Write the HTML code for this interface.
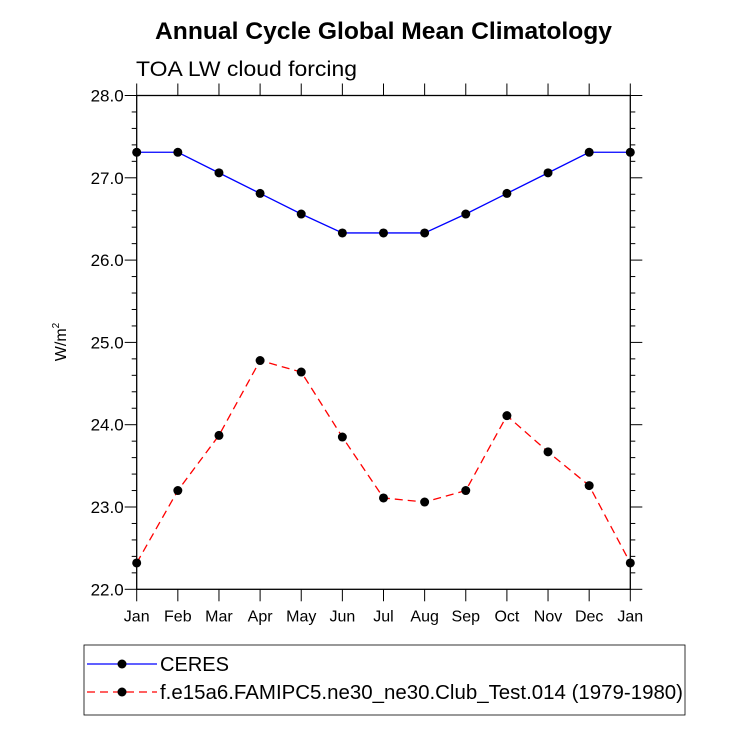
<!DOCTYPE html>
<html><head><meta charset="utf-8"><style>
html,body{margin:0;padding:0;background:#fff;width:732px;height:732px;overflow:hidden}
svg text{font-family:"Liberation Sans",Arial,sans-serif}
</style></head><body>
<svg id="chart" width="732" height="732" xmlns="http://www.w3.org/2000/svg">
<text x="155" y="39" font-size="24" font-weight="bold" textLength="457" lengthAdjust="spacingAndGlyphs">Annual Cycle Global Mean Climatology</text>
<text x="136" y="76" font-size="21" textLength="221" lengthAdjust="spacingAndGlyphs">TOA LW cloud forcing</text>
<text transform="translate(66,342) rotate(-90)" text-anchor="middle" font-size="16">W/m<tspan font-size="10" dy="-7">2</tspan></text>
<g id="axes"></g>
<g id="series"></g>
<g id="legend"></g>
</svg>
<script>
const months = ["Jan","Feb","Mar","Apr","May","Jun","Jul","Aug","Sep","Oct","Nov","Dec","Jan"];
const ceres = [27.31,27.31,27.06,26.81,26.56,26.33,26.33,26.33,26.56,26.81,27.06,27.31,27.31];
const model = [22.32,23.20,23.87,24.78,24.64,23.85,23.11,23.06,23.20,24.11,23.67,23.26,22.32];
const yTicks = [22,23,24,25,26,27,28];
const yTickLabels = ["22.0","23.0","24.0","25.0","26.0","27.0","28.0"];
const seriesNames = ["CERES","f.e15a6.FAMIPC5.ne30_ne30.Club_Test.014 (1979-1980)"];

const NS="http://www.w3.org/2000/svg";
const L=136.7,R=630.3,T=95.5,B=589.3,ymin=22,ymax=28;
const xs=i=>L+i*(R-L)/(months.length-1);
const ys=v=>B-(v-ymin)*(B-T)/(ymax-ymin);
function mk(tag,attrs,parent){const e=document.createElementNS(NS,tag);for(const k in attrs)e.setAttribute(k,attrs[k]);parent.appendChild(e);return e;}
const ax=document.getElementById('axes');
const frame=mk('rect',{x:L,y:T,width:R-L,height:B-T,fill:'none',stroke:'#000','stroke-width':1.3},ax);


for(let v=ymin;v<=ymax+1e-6;v+=0.2){
  const y=ys(v);const major=Math.abs(v-Math.round(v))<1e-6;const len=major?12:5;
  mk('line',{x1:L-len,y1:y,x2:L,y2:y,stroke:'#000','stroke-width':1},ax);
  mk('line',{x1:R,y1:y,x2:R+len,y2:y,stroke:'#000','stroke-width':1},ax);
}
yTicks.forEach((v,i)=>{
  const t=mk('text',{x:L-13,y:ys(v)+6,'text-anchor':'end','font-size':17},ax);
  t.textContent=yTickLabels[i];
  
  
});
months.forEach((m,i)=>{
  const x=xs(i);
  mk('line',{x1:x,y1:B,x2:x,y2:B+12,stroke:'#000','stroke-width':1},ax);
  mk('line',{x1:x,y1:T-12,x2:x,y2:T,stroke:'#000','stroke-width':1},ax);
  const t=mk('text',{x:x,y:B+32,'text-anchor':'middle','font-size':16},ax);
  t.textContent=m;
  
  
});
const sg=document.getElementById('series');
function drawSeries(vals,color,dash,name){
  const g=mk('g',{},sg);
  
  
  const pts=vals.map((v,i)=>xs(i)+','+ys(v)).join(' ');
  const a={points:pts,fill:'none',stroke:color,'stroke-width':1.3};
  if(dash)a['stroke-dasharray']=dash;
  mk('polyline',a,g);
  vals.forEach((v,i)=>{
    const c=mk('circle',{cx:xs(i),cy:ys(v),r:4.5,fill:'#000'},g);
    
    
  });
}
drawSeries(ceres,'#0000ff',null,'ceres-series');
drawSeries(model,'#ff0000','8,5','model-series');
const lg=document.getElementById('legend');


mk('rect',{x:84,y:645,width:601,height:70,fill:'#fff',stroke:'#000','stroke-width':0.8},lg);
const legLens=[69,523];
[[664,'#0000ff',null],[692,'#ff0000','8,5']].forEach((e,i)=>{
  const g=mk('g',{},lg);
  
  
  const a={x1:87,y1:e[0],x2:157,y2:e[0],stroke:e[1],'stroke-width':1.3};
  if(e[2])a['stroke-dasharray']=e[2];
  mk('line',a,g);
  mk('circle',{cx:122,cy:e[0],r:4.5,fill:'#000'},g);
  const t=mk('text',{x:160,y:e[0]+7,'font-size':20,textLength:legLens[i],lengthAdjust:'spacingAndGlyphs'},g);
  t.textContent=seriesNames[i];
});
</script>
</body></html>
